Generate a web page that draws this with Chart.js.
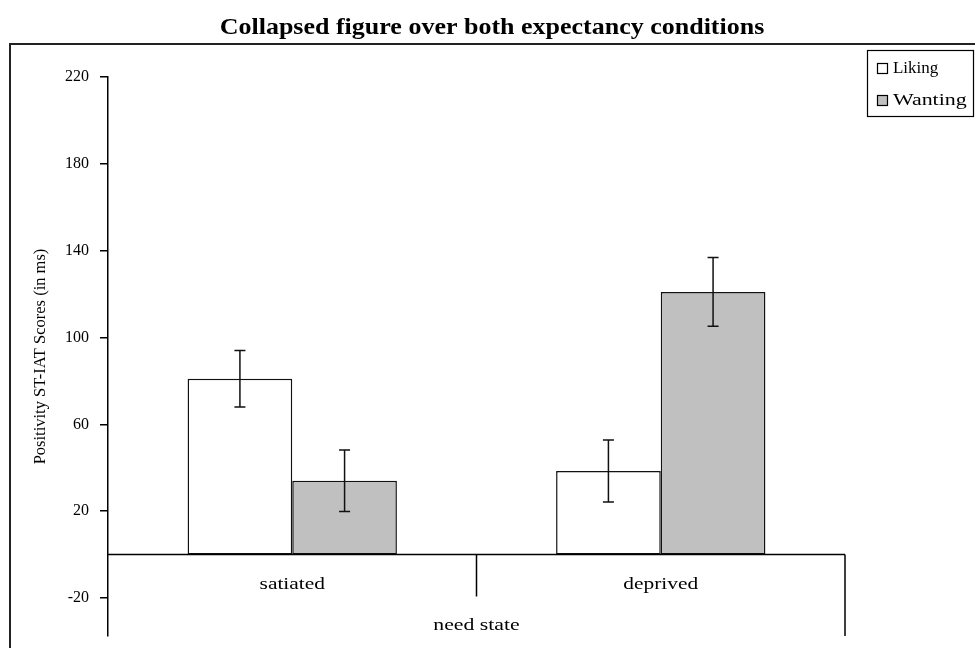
<!DOCTYPE html>
<html>
<head>
<meta charset="utf-8">
<script src="https://cdn.jsdelivr.net/npm/chart.js@4.4.1/dist/chart.umd.min.js"></script>
<style>
  html, body { margin: 0; padding: 0; background: #fff; }
  #wrap { width: 975px; height: 648px; }
</style>
</head>
<body>
<div id="wrap"><canvas id="c" width="975" height="648"></canvas></div>
<script>
const chartTitle = 'Collapsed figure over both expectancy conditions';
const categories = ['satiated', 'deprived'];
const seriesLabels = ['Liking', 'Wanting'];
const likingValues = [81, 38.5];
const wantingValues = [34, 121];
const likingErrors = [13, 14.3];
const wantingErrors = [14.2, 15.8];
const yTickValues = [-20, 20, 60, 100, 140, 180, 220];
const yAxisTitle = 'Positivity ST-IAT Scores (in ms)';
const xAxisTitle = 'need state';

const SERIF = '"Liberation Serif", "Times New Roman", serif';
const errorSets = [likingErrors, wantingErrors];

function stretchedText(ctx, text, x, y, sx, align) {
  ctx.save();
  ctx.translate(x, y);
  ctx.scale(sx, 1);
  ctx.textAlign = align || 'center';
  ctx.fillText(text, 0, 0);
  ctx.restore();
}

const decorPlugin = {
  id: 'decor',
  beforeDraw(chart) {
    const ctx = chart.ctx;
    ctx.save();
    ctx.fillStyle = '#fff';
    ctx.fillRect(0, 0, chart.width, chart.height);
    ctx.restore();
  },
  afterDatasetsDraw(chart) {
    const ctx = chart.ctx;
    const y = chart.scales.y;
    const x = chart.scales.x;
    const area = chart.chartArea;
    ctx.save();
    // error bars
    ctx.strokeStyle = '#111';
    ctx.lineWidth = 1.5;
    chart.data.datasets.forEach((ds, i) => {
      const meta = chart.getDatasetMeta(i);
      meta.data.forEach((el, j) => {
        const v = ds.data[j];
        const e = errorSets[i][j];
        const yt = y.getPixelForValue(v + e);
        const yb = y.getPixelForValue(v - e);
        ctx.beginPath();
        ctx.moveTo(el.x, yt); ctx.lineTo(el.x, yb);
        ctx.moveTo(el.x - 5.5, yt); ctx.lineTo(el.x + 5.5, yt);
        ctx.moveTo(el.x - 5.5, yb); ctx.lineTo(el.x + 5.5, yb);
        ctx.stroke();
      });
    });
    // baseline & category box
    const y0 = y.getPixelForValue(0);
    ctx.strokeStyle = '#000';
    ctx.lineWidth = 1.5;
    ctx.beginPath();
    ctx.moveTo(area.left, y0); ctx.lineTo(area.right, y0);
    const xDiv = (x.getPixelForValue(0) + x.getPixelForValue(1)) / 2;
    ctx.moveTo(xDiv, y0); ctx.lineTo(xDiv, y0 + 42);
    ctx.moveTo(area.right, y0); ctx.lineTo(area.right, area.bottom);
    ctx.stroke();
    // category labels
    ctx.fillStyle = '#000';
    ctx.font = '17px ' + SERIF;
    ctx.textBaseline = 'middle';
    categories.forEach((c, i) => {
      stretchedText(ctx, c, x.getPixelForValue(i), y0 + 30, 1.26);
    });
    stretchedText(ctx, xAxisTitle, (area.left + area.right) / 2, y0 + 71, 1.28);
    ctx.restore();
  },
  afterDraw(chart) {
    const ctx = chart.ctx;
    ctx.save();
    // title
    ctx.fillStyle = '#000';
    ctx.font = 'bold 23px ' + SERIF;
    ctx.textBaseline = 'middle';
    stretchedText(ctx, chartTitle, 492, 28, 1.13);
    // outer frame
    ctx.strokeStyle = '#222';
    ctx.lineWidth = 2;
    ctx.strokeRect(10, 44, 1000, 700);
    // legend
    ctx.lineWidth = 1.2;
    ctx.strokeStyle = '#000';
    ctx.strokeRect(867.5, 50.5, 106, 66);
    ctx.font = '16px ' + SERIF;
    ctx.textAlign = 'left';
    ctx.textBaseline = 'middle';
    chart.data.datasets.forEach((ds, i) => {
      const cy = 69 + i * 32;
      ctx.fillStyle = ds.backgroundColor;
      ctx.fillRect(877.5, cy - 5.5, 10, 10);
      ctx.strokeRect(877.5, cy - 5.5, 10, 10);
      ctx.fillStyle = '#000';
      stretchedText(ctx, ds.label, 893, cy, i === 1 ? 1.37 : 1.06, 'left');
    });
    ctx.restore();
  }
};

new Chart(document.getElementById('c'), {
  type: 'bar',
  data: {
    labels: categories,
    datasets: [
      { label: seriesLabels[0], data: likingValues, backgroundColor: '#ffffff', borderColor: '#111', borderWidth: 1.5, borderSkipped: false },
      { label: seriesLabels[1], data: wantingValues, backgroundColor: '#c0c0c0', borderColor: '#111', borderWidth: 1.5, borderSkipped: false }
    ]
  },
  options: {
    responsive: false,
    devicePixelRatio: 1,
    animation: false,
    categoryPercentage: 0.568,
    barPercentage: 1.0,
    layout: { padding: { left: 0, right: 130, top: 77, bottom: 12 } },
    plugins: { legend: { display: false }, title: { display: false }, tooltip: { enabled: false } },
    scales: {
      x: { type: 'category', display: false },
      y: {
        min: -37.5,
        max: 220,
        afterBuildTicks(scale) { scale.ticks = yTickValues.map(v => ({ value: v })); },
        afterFit(scale) { scale.width = 108; scale.paddingTop = 0; scale.paddingBottom = 0; },
        border: { display: true, color: '#000', width: 1.5 },
        grid: { drawOnChartArea: false, drawTicks: true, tickLength: 8, color: '#000', lineWidth: 1.5 },
        ticks: { color: '#000', padding: 11, font: { family: SERIF, size: 16 } },
        title: { display: true, text: yAxisTitle, color: '#000', font: { family: SERIF, size: 16.5 }, padding: { top: 31, bottom: 0 } }
      }
    }
  },
  plugins: [decorPlugin]
});
</script>
</body>
</html>
